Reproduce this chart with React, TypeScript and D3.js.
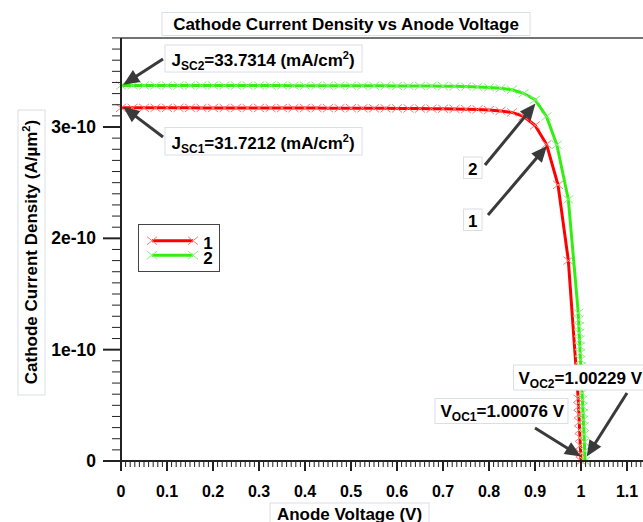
import React from 'react';
import * as d3 from 'd3';

// ---------- data ----------
const seriesNames = ['1', '2'];
const seriesColors = ['#ff0000', '#33ee11'];
const markerColors = ['#ff7a7a', '#88ee7a'];

// Anode voltage (V) for cell 1
const voltage1 = [0, 0.025, 0.05, 0.075, 0.1, 0.125, 0.15, 0.175, 0.2, 0.225, 0.25, 0.275, 0.3, 0.325, 0.35, 0.375, 0.4, 0.425, 0.45, 0.475, 0.5, 0.525, 0.55, 0.575, 0.6, 0.625, 0.65, 0.675, 0.7, 0.725, 0.75, 0.775, 0.8, 0.825, 0.85, 0.875, 0.9, 0.925, 0.95, 0.9725, 0.994, 0.9948, 0.9955, 0.9963, 0.997, 0.9978, 0.9985, 0.9993, 1.0];
// Cathode current density (x1e-10 A/um^2) for cell 1
const current1 = [3.172, 3.172, 3.172, 3.172, 3.172, 3.172, 3.172, 3.171, 3.171, 3.171, 3.171, 3.171, 3.171, 3.170, 3.170, 3.170, 3.170, 3.170, 3.169, 3.169, 3.169, 3.168, 3.168, 3.168, 3.167, 3.167, 3.166, 3.165, 3.164, 3.162, 3.160, 3.157, 3.152, 3.144, 3.131, 3.095, 3.015, 2.845, 2.48, 1.80, 0.56, 0.49, 0.42, 0.35, 0.28, 0.21, 0.14, 0.07, 0];

// Anode voltage (V) for cell 2
const voltage2 = [0, 0.025, 0.05, 0.075, 0.1, 0.125, 0.15, 0.175, 0.2, 0.225, 0.25, 0.275, 0.3, 0.325, 0.35, 0.375, 0.4, 0.425, 0.45, 0.475, 0.5, 0.525, 0.55, 0.575, 0.6, 0.625, 0.65, 0.675, 0.7, 0.725, 0.75, 0.775, 0.8, 0.825, 0.85, 0.875, 0.9, 0.925, 0.9475, 0.9725, 0.994, 0.9947, 0.9954, 0.9961, 0.9968, 0.9975, 0.9982, 0.9989, 0.9996, 1.0003, 1.001, 1.0017, 1.0024, 1.0031, 1.0038, 1.0045, 1.0052, 1.0059, 1.0066, 1.0073, 1.008, 1.0086];
// Cathode current density (x1e-10 A/um^2) for cell 2
const current2 = [3.373, 3.373, 3.373, 3.373, 3.373, 3.373, 3.373, 3.373, 3.373, 3.372, 3.372, 3.372, 3.372, 3.372, 3.372, 3.371, 3.371, 3.371, 3.371, 3.371, 3.370, 3.370, 3.370, 3.370, 3.369, 3.369, 3.369, 3.368, 3.367, 3.365, 3.363, 3.360, 3.355, 3.348, 3.335, 3.303, 3.245, 3.095, 2.84, 2.35, 1.33, 1.27, 1.21, 1.15, 1.09, 1.03, 0.97, 0.91, 0.85, 0.79, 0.73, 0.67, 0.61, 0.55, 0.49, 0.43, 0.37, 0.31, 0.24, 0.17, 0.09, 0];

const xTickValues = [0, 0.1, 0.2, 0.3, 0.4, 0.5, 0.6, 0.7, 0.8, 0.9, 1, 1.1];
const xTickLabels = ['0', '0.1', '0.2', '0.3', '0.4', '0.5', '0.6', '0.7', '0.8', '0.9', '1', '1.1'];
const yTickValues = [0, 1e-10, 2e-10, 3e-10];
const yTickLabels = ['0', '1e-10', '2e-10', '3e-10'];

const jscValues = ['33.7314', '31.7212'];
const vocValues = ['1.00076', '1.00229'];

const FONT = '"Liberation Sans", Arial, Helvetica, sans-serif';

function Arrow({ x1, y1, x2, y2 }: { x1: number; y1: number; x2: number; y2: number }) {
  const dx = x2 - x1, dy = y2 - y1;
  const len = Math.hypot(dx, dy);
  const ux = dx / len, uy = dy / len;
  const head = 16, hw = 7;
  const bx = x2 - ux * head, by = y2 - uy * head;
  const px = -uy, py = ux;
  return (
    <g>
      <line x1={x1} y1={y1} x2={bx + ux * 2} y2={by + uy * 2} stroke="#3a3a3a" strokeWidth={3} />
      <polygon points={`${x2},${y2} ${bx + px * hw},${by + py * hw} ${bx - px * hw},${by - py * hw}`} fill="#3a3a3a" />
    </g>
  );
}

function Box({ x, y, w, h }: { x: number; y: number; w: number; h: number }) {
  return <rect x={x} y={y} width={w} height={h} fill="#ffffff" stroke="#d9dee8" strokeWidth={1} />;
}

export default function App() {
  const W = 643, H = 522;
  const x = d3.scaleLinear().domain([0, 1]).range([121, 581]);
  const y = d3.scaleLinear().domain([0, 3e-10]).range([461, 127]);
  const yTop = y(3.8e-10);
  const x0 = x(0), y0 = y(0);

  const series = [
    voltage1.map((v, i) => [v, current1[i] * 1e-10] as [number, number]),
    voltage2.map((v, i) => [v, current2[i] * 1e-10] as [number, number]),
  ];
  const line = d3.line<[number, number]>().x(d => x(d[0])).y(d => y(d[1]));

  const xMinor = d3.range(0, 121).map(i => i / 100);
  const yMinor = d3.range(0, 39).map(i => i * 1e-11);

  const cross = (cx: number, cy: number, hw = 5, hh = 4) =>
    `M${cx - hw},${cy - hh}L${cx + hw},${cy + hh}M${cx - hw},${cy + hh}L${cx + hw},${cy - hh}`;

  const big = 17, small = 12;

  return (
    <svg width={W} height={H} style={{ position: 'absolute', left: 0, top: 0, background: '#fff' }}
      fontFamily={FONT} fontWeight="bold">
      {/* title */}
      <Box x={162} y={12.5} w={368} h={23} />
      <text x={346} y={30} fontSize={big} textAnchor="middle" fill="#000">Cathode Current Density vs Anode Voltage</text>

      {/* curves */}
      {series.map((s, k) => (
        <g key={k}>
          <path d={line(s) || ''} fill="none" stroke={seriesColors[k]} strokeWidth={3} />
          <path d={s.map(d => cross(x(d[0]), y(d[1]))).join('')} fill="none" stroke={markerColors[k]} strokeWidth={1} />
        </g>
      ))}

      {/* frame / axes */}
      <line x1={x0} y1={yTop} x2={W} y2={yTop} stroke="#444" strokeWidth={1.5} />
      <line x1={x0} y1={yTop} x2={x0} y2={y0} stroke="#222" strokeWidth={2} />
      <line x1={x0 - 18} y1={y0} x2={W} y2={y0} stroke="#222" strokeWidth={2} />
      {xMinor.map((v, i) => (
        <line key={'xm' + i} x1={x(v)} x2={x(v)} y1={y0} y2={y0 + (i % 10 === 0 ? 10 : 6)} stroke="#222" strokeWidth={i % 10 === 0 ? 2 : 1} />
      ))}
      {yMinor.map((v, i) => (
        <line key={'ym' + i} x1={x0 - (i % 10 === 0 ? 18 : 9)} x2={x0} y1={y(v)} y2={y(v)} stroke="#222" strokeWidth={i % 10 === 0 ? 2 : 1} />
      ))}
      {xTickValues.map((v, i) => (
        <text key={'xt' + i} x={x(v)} y={497} fontSize={16} textAnchor="middle" fill="#000">{xTickLabels[i]}</text>
      ))}
      {yTickValues.map((v, i) => (
        <text key={'yt' + i} x={96} y={y(v) + 6} fontSize={17.5} textAnchor="end" fill="#000">{yTickLabels[i]}</text>
      ))}

      {/* axis titles */}
      <Box x={270} y={503} w={159} h={24} />
      <text x={349.5} y={520} fontSize={big} textAnchor="middle" fill="#000">Anode Voltage (V)</text>
      <Box x={18} y={110} w={27} h={285} />
      <text transform={`translate(37,252) rotate(-90)`} fontSize={big} textAnchor="middle" fill="#000">
        Cathode Current Density (A/µm<tspan fontSize={11} dy={-7}>2</tspan><tspan fontSize={big} dy={7}>)</tspan>
      </text>

      {/* legend */}
      <rect x={138.5} y={224.5} width={81} height={47} fill="#fff" stroke="#444" strokeWidth={1} />
      {seriesNames.map((n, k) => {
        const ly = 240.7 + k * 14.5;
        return (
          <g key={'lg' + k}>
            <line x1={152} x2={193} y1={ly} y2={ly} stroke={seriesColors[k]} strokeWidth={3} />
            <path d={cross(152, ly) + cross(193, ly)} stroke={markerColors[k]} strokeWidth={1} fill="none" />
            <text x={208} y={ly + 8.5} fontSize={big} textAnchor="middle" fill="#000">{n}</text>
          </g>
        );
      })}

      {/* Jsc annotations */}
      <Arrow x1={163} y1={59} x2={x(0.005)} y2={y(3.38e-10)} />
      <Arrow x1={163} y1={137} x2={x(0.005)} y2={y(3.18e-10)} />
      <Box x={165} y={45} w={197} h={27} />
      <text x={171.5} y={66} fontSize={big} fill="#000">J<tspan fontSize={small} dy={4}>SC2</tspan><tspan fontSize={big} dy={-4}>={jscValues[0]} (mA/cm</tspan><tspan fontSize={11} dy={-7}>2</tspan><tspan fontSize={big} dy={7}>)</tspan></text>
      <Box x={165} y={127.5} w={197} h={27.5} />
      <text x={171.5} y={148.5} fontSize={big} fill="#000">J<tspan fontSize={small} dy={4}>SC1</tspan><tspan fontSize={big} dy={-4}>={jscValues[1]} (mA/cm</tspan><tspan fontSize={11} dy={-7}>2</tspan><tspan fontSize={big} dy={7}>)</tspan></text>

      {/* curve labels */}
      <Arrow x1={485} y1={165} x2={x(0.901)} y2={y(3.21e-10)} />
      <Arrow x1={488} y1={215} x2={x(0.926)} y2={y(2.83e-10)} />
      <Box x={463.5} y={157} w={18.5} h={21.5} />
      <text x={472.7} y={174.5} fontSize={big} textAnchor="middle" fill="#000">{seriesNames[1]}</text>
      <Box x={463.5} y={209} w={18.5} h={21.5} />
      <text x={472.7} y={226.5} fontSize={big} textAnchor="middle" fill="#000">{seriesNames[0]}</text>

      {/* Voc annotations */}
      <Arrow x1={535} y1={428} x2={x(1.0)} y2={y(0.04e-10)} />
      <Arrow x1={627} y1={393} x2={x(1.0125)} y2={y(0.04e-10)} />
      <Box x={435} y={398.5} w={133} h={25} />
      <text x={440.5} y={417} fontSize={big} fill="#000">V<tspan fontSize={small} dy={4}>OC1</tspan><tspan fontSize={big} dy={-4}>={vocValues[0]} V</tspan></text>
      <Box x={513.5} y={365} w={135} h={25} />
      <text x={518.5} y={384} fontSize={big} fill="#000">V<tspan fontSize={small} dy={4}>OC2</tspan><tspan fontSize={big} dy={-4}>={vocValues[1]} V</tspan></text>
    </svg>
  );
}
